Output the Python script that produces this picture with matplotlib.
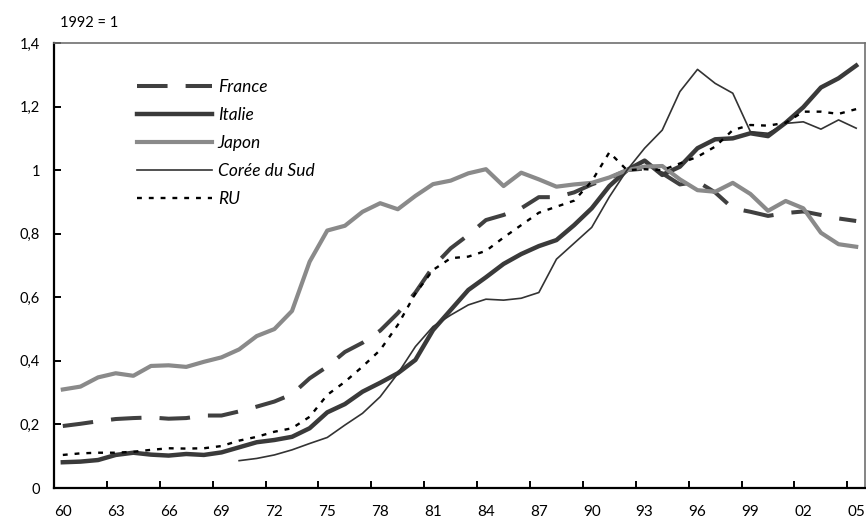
import numpy as np
import matplotlib
matplotlib.use("Agg")
import matplotlib.pyplot as plt

# data (index 1992 = 1)

years = list(range(1960, 2006))
nan = np.nan

france = [0.195, 0.202, 0.21, 0.217, 0.22, 0.222, 0.218, 0.22, 0.228, 0.228,
          0.241, 0.256, 0.272, 0.295, 0.345, 0.382, 0.428, 0.457, 0.495, 0.55,
          0.615, 0.696, 0.754, 0.796, 0.843, 0.859, 0.88, 0.915, 0.915, 0.93,
          0.955, 0.975, 1.0, 1.005, 0.99, 0.955, 0.964, 0.93, 0.88, 0.869,
          0.856, 0.865, 0.87, 0.859, 0.848, 0.84]
italie = [0.081, 0.083, 0.088, 0.104, 0.111, 0.105, 0.102, 0.107, 0.104, 0.112,
          0.128, 0.144, 0.151, 0.161, 0.188, 0.238, 0.264, 0.303, 0.331, 0.361,
          0.403, 0.497, 0.56, 0.623, 0.663, 0.705, 0.736, 0.761, 0.78, 0.827,
          0.88, 0.95, 1.0, 1.03, 0.985, 1.011, 1.069, 1.097, 1.1, 1.116,
          1.107, 1.149, 1.198, 1.26, 1.289, 1.329]
japon = [0.31, 0.319, 0.348, 0.361, 0.353, 0.384, 0.386, 0.381, 0.397, 0.411,
         0.436, 0.478, 0.50, 0.557, 0.712, 0.81, 0.825, 0.869, 0.896, 0.877,
         0.919, 0.956, 0.967, 0.99, 1.003, 0.95, 0.992, 0.971, 0.948, 0.955,
         0.96, 0.977, 1.0, 1.011, 1.013, 0.971, 0.937, 0.932, 0.96, 0.925,
         0.872, 0.903, 0.88, 0.803, 0.767, 0.759]
coree = [nan] * 10 + [
         0.086, 0.093, 0.104, 0.12, 0.14, 0.159, 0.198, 0.235, 0.287, 0.36,
         0.445, 0.508, 0.544, 0.576, 0.594, 0.591, 0.597, 0.615, 0.72, 0.77,
         0.82, 0.916, 1.0, 1.069, 1.126, 1.247, 1.317, 1.273, 1.242, 1.121,
         1.116, 1.147, 1.152, 1.129, 1.158, 1.132]
ru = [0.104, 0.109, 0.111, 0.111, 0.114, 0.12, 0.125, 0.124, 0.125, 0.132,
      0.149, 0.161, 0.177, 0.188, 0.224, 0.293, 0.334, 0.382, 0.434, 0.513,
      0.612, 0.686, 0.723, 0.728, 0.746, 0.788, 0.827, 0.866, 0.885, 0.904,
      0.965, 1.056, 1.0, 1.003, 1.0, 1.021, 1.042, 1.074, 1.126, 1.142,
      1.14, 1.149, 1.184, 1.184, 1.177, 1.192]

yticks = [0, 0.2, 0.4, 0.6, 0.8, 1.0, 1.2, 1.4]
ytick_labels = ["0", "0,2", "0,4", "0,6", "0,8", "1", "1,2", "1,4"]

plt.rcParams["font.family"] = ["Lato", "DejaVu Sans"]
plt.rcParams["lines.scale_dashes"] = False

fig = plt.figure(figsize=(8.66, 5.27), dpi=100)
ax = fig.add_axes([54 / 866, 39 / 527, 811 / 866, 445 / 527])

x = np.arange(len(years))

ax.plot(x, france, color="#404040", lw=2.9, ls=(0, (22, 13)), label="France")
ax.plot(x, italie, color="#3a3a3a", lw=3.2, label="Italie")
ax.plot(x, japon, color="#8a8a8a", lw=3.0, label="Japon")
ax.plot(x, coree, color="#333333", lw=1.2, label="Corée du Sud")
ax.plot(x, ru, color="black", lw=1.7, ls=(0, (3.5, 5)), label="RU")

ax.set_xlim(-0.5, len(years) - 0.5)
ax.set_ylim(0, 1.4)

# labels in the middle of each category, tick marks on the category borders
ax.set_xticks(x[::3])
ax.set_xticklabels([str(y)[2:] for y in years[::3]], fontsize=11)
ax.set_xticks(np.arange(2.5, len(years), 3), minor=True)
ax.tick_params(axis="x", which="major", length=0, pad=12)
ax.tick_params(axis="x", which="minor", direction="in", length=5, width=1.4)

ax.set_yticks(yticks)
ax.set_yticklabels(ytick_labels, fontsize=10.5)
ax.tick_params(axis="y", direction="in", length=5, width=1.4, pad=10)

for side in ["left", "bottom"]:
    ax.spines[side].set_linewidth(1.6)
    ax.spines[side].set_color("black")
for side in ["top", "right"]:
    ax.spines[side].set_linewidth(1.2)
    ax.spines[side].set_color("#707070")

leg = ax.legend(loc="upper left", bbox_to_anchor=(0.083, 0.955), frameon=False,
                handlelength=4.3, handletextpad=0.35, labelspacing=0.7,
                prop={"size": 12.5, "style": "italic"})

fig.text(60 / 866, 1 - 23 / 527, "1992 = 1", fontsize=10.5, va="center", ha="left")

plt.savefig("out.png", dpi=100)
